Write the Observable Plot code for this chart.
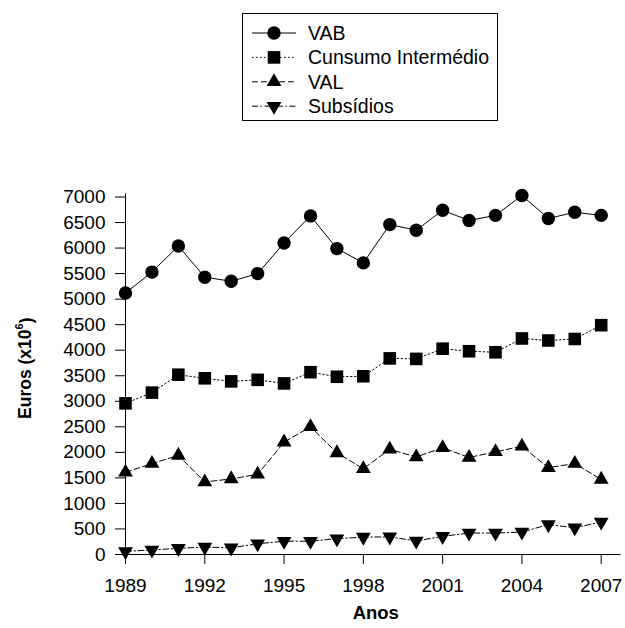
<!DOCTYPE html>
<html><head><meta charset="utf-8">
<script src="https://cdn.jsdelivr.net/npm/d3@7"></script>
<script src="https://cdn.jsdelivr.net/npm/@observablehq/plot@0.6"></script>
<style>
html,body{margin:0;padding:0;background:#fff;}
#wrap{position:relative;width:625px;height:628px;font-family:"Liberation Sans",Arial,sans-serif;}
#legend{position:absolute;left:242px;top:13px;}
</style></head>
<body>
<div id="wrap"></div>
<script>
const years = [1989,1990,1991,1992,1993,1994,1995,1996,1997,1998,1999,2000,2001,2002,2003,2004,2005,2006,2007];
const vab = [5120,5530,6040,5430,5350,5500,6100,6630,5990,5710,6460,6350,6740,6540,6640,7030,6580,6700,6640];
const consumo = [2960,3170,3520,3450,3390,3420,3350,3570,3480,3490,3840,3830,4030,3980,3960,4230,4190,4220,4490];
const val = [1610,1780,1940,1420,1480,1570,2200,2500,1990,1680,2060,1910,2090,1900,2010,2120,1700,1780,1470];
const subsidios = [60,90,120,145,130,210,260,260,310,340,345,265,355,420,420,440,585,525,635];
const xTicks = [1989,1992,1995,1998,2001,2004,2007];
const yTicks = [0,500,1000,1500,2000,2500,3000,3500,4000,4500,5000,5500,6000,6500,7000];
const seriesNames = ["VAB","Cunsumo Intermédio","VAL","Subsídios"];

const triangleDown = {
  draw(context, size) {
    const y = -Math.sqrt(size / (3 * Math.sqrt(3)));
    context.moveTo(0, -y * 2);
    context.lineTo(-Math.sqrt(3) * y, y);
    context.lineTo(Math.sqrt(3) * y, y);
    context.closePath();
  }
};
const styles = [
  {symbol: "circle", r: 6.7, dash: null},
  {symbol: "square", r: 7.1, dash: "1.5,2.5"},
  {symbol: "triangle", r: 5.5, dash: "6,3"},
  {symbol: triangleDown, r: 5.5, dash: "6,2.5,1.5,2.5"}
];
const allValues = [vab, consumo, val, subsidios];
const tables = allValues.map((vals, i) => years.map((yr, j) => ({year: yr, v: vals[j], s: seriesNames[i]})));

const seriesMarks = [];
tables.forEach((t, i) => {
  seriesMarks.push(Plot.line(t, {x: "year", y: "v", stroke: "#000", strokeWidth: 1, strokeDasharray: styles[i].dash}));
});
tables.forEach((t, i) => {
  seriesMarks.push(Plot.dot(t, {x: "year", y: "v", symbol: styles[i].symbol, r: styles[i].r, fill: "#000", stroke: "none"}));
});

const chart = Plot.plot({
  width: 625, height: 628,
  marginLeft: 125, marginRight: 24.3, marginTop: 196.5, marginBottom: 74,
  x: {domain: [1989, 2007]},
  y: {domain: [0, 7000]},
  style: {fontFamily: "'Liberation Sans', Arial, sans-serif", color: "#000", background: "#fff"},
  marks: [
    Plot.ruleY([0], {x1: () => 1989, x2: () => 2007.75, stroke: "#000", strokeWidth: 1}),
    Plot.ruleX([1989], {y1: () => 0, y2: () => 7060, stroke: "#000", strokeWidth: 1}),
    Plot.axisX({ticks: xTicks, tickFormat: d => String(d), tickSize: 10, tickPadding: 14, fontSize: 19, label: null}),
    Plot.axisY({ticks: yTicks, tickFormat: d => String(d), tickSize: 10, tickPadding: 10, fontSize: 19, label: null}),
    ...seriesMarks
  ]
});
document.getElementById("wrap").appendChild(chart);

const svg = d3.select(chart);
const xs = chart.scale("x"), ys = chart.scale("y");
const yMid = (ys.apply(0) + ys.apply(7000)) / 2 - 7;
const yt = svg.append("text")
  .attr("transform", `translate(25,${yMid}) rotate(-90)`)
  .attr("text-anchor", "middle").attr("dy", "0.35em")
  .attr("font-weight", "bold").attr("font-size", 17.5).attr("fill", "#000")
  .attr("font-family", "'Liberation Sans', Arial, sans-serif");
yt.append("tspan").text("Euros (x10");
yt.append("tspan").attr("font-size", 11).attr("dy", "-0.75em").text("6");
yt.append("tspan").attr("dy", "0.5em").text(")");
svg.append("text")
  .attr("x", (xs.apply(1989) + xs.apply(2007.75)) / 2 + 3)
  .attr("y", 618.5)
  .attr("text-anchor", "middle")
  .attr("font-weight", "bold").attr("font-size", 18.5).attr("fill", "#000")
  .attr("font-family", "'Liberation Sans', Arial, sans-serif")
  .text("Anos");

// legend
const lg = d3.select("#wrap").append("svg").attr("id", "legend")
  .attr("width", 256).attr("height", 108);
lg.append("rect").attr("x", 0.5).attr("y", 0.5).attr("width", 255).attr("height", 107)
  .attr("fill", "#fff").attr("stroke", "#000");
seriesNames.forEach((name, i) => {
  const cy = 20 + i * 24.4;
  lg.append("line").attr("x1", 10).attr("x2", 54).attr("y1", cy).attr("y2", cy)
    .attr("stroke", "#000").attr("stroke-width", 1)
    .attr("stroke-dasharray", styles[i].dash);
  const sym = typeof styles[i].symbol === "string"
    ? {circle: d3.symbolCircle, square: d3.symbolSquare, triangle: d3.symbolTriangle}[styles[i].symbol]
    : styles[i].symbol;
  lg.append("path").attr("transform", `translate(32,${cy})`)
    .attr("d", d3.symbol(sym, Math.PI * styles[i].r * styles[i].r)())
    .attr("fill", "#000");
  lg.append("text").attr("x", 66).attr("y", cy).attr("dy", "0.35em")
    .attr("font-size", 19.5).attr("fill", "#000")
    .attr("font-family", "'Liberation Sans', Arial, sans-serif")
    .text(name);
});
</script>
</body></html>
